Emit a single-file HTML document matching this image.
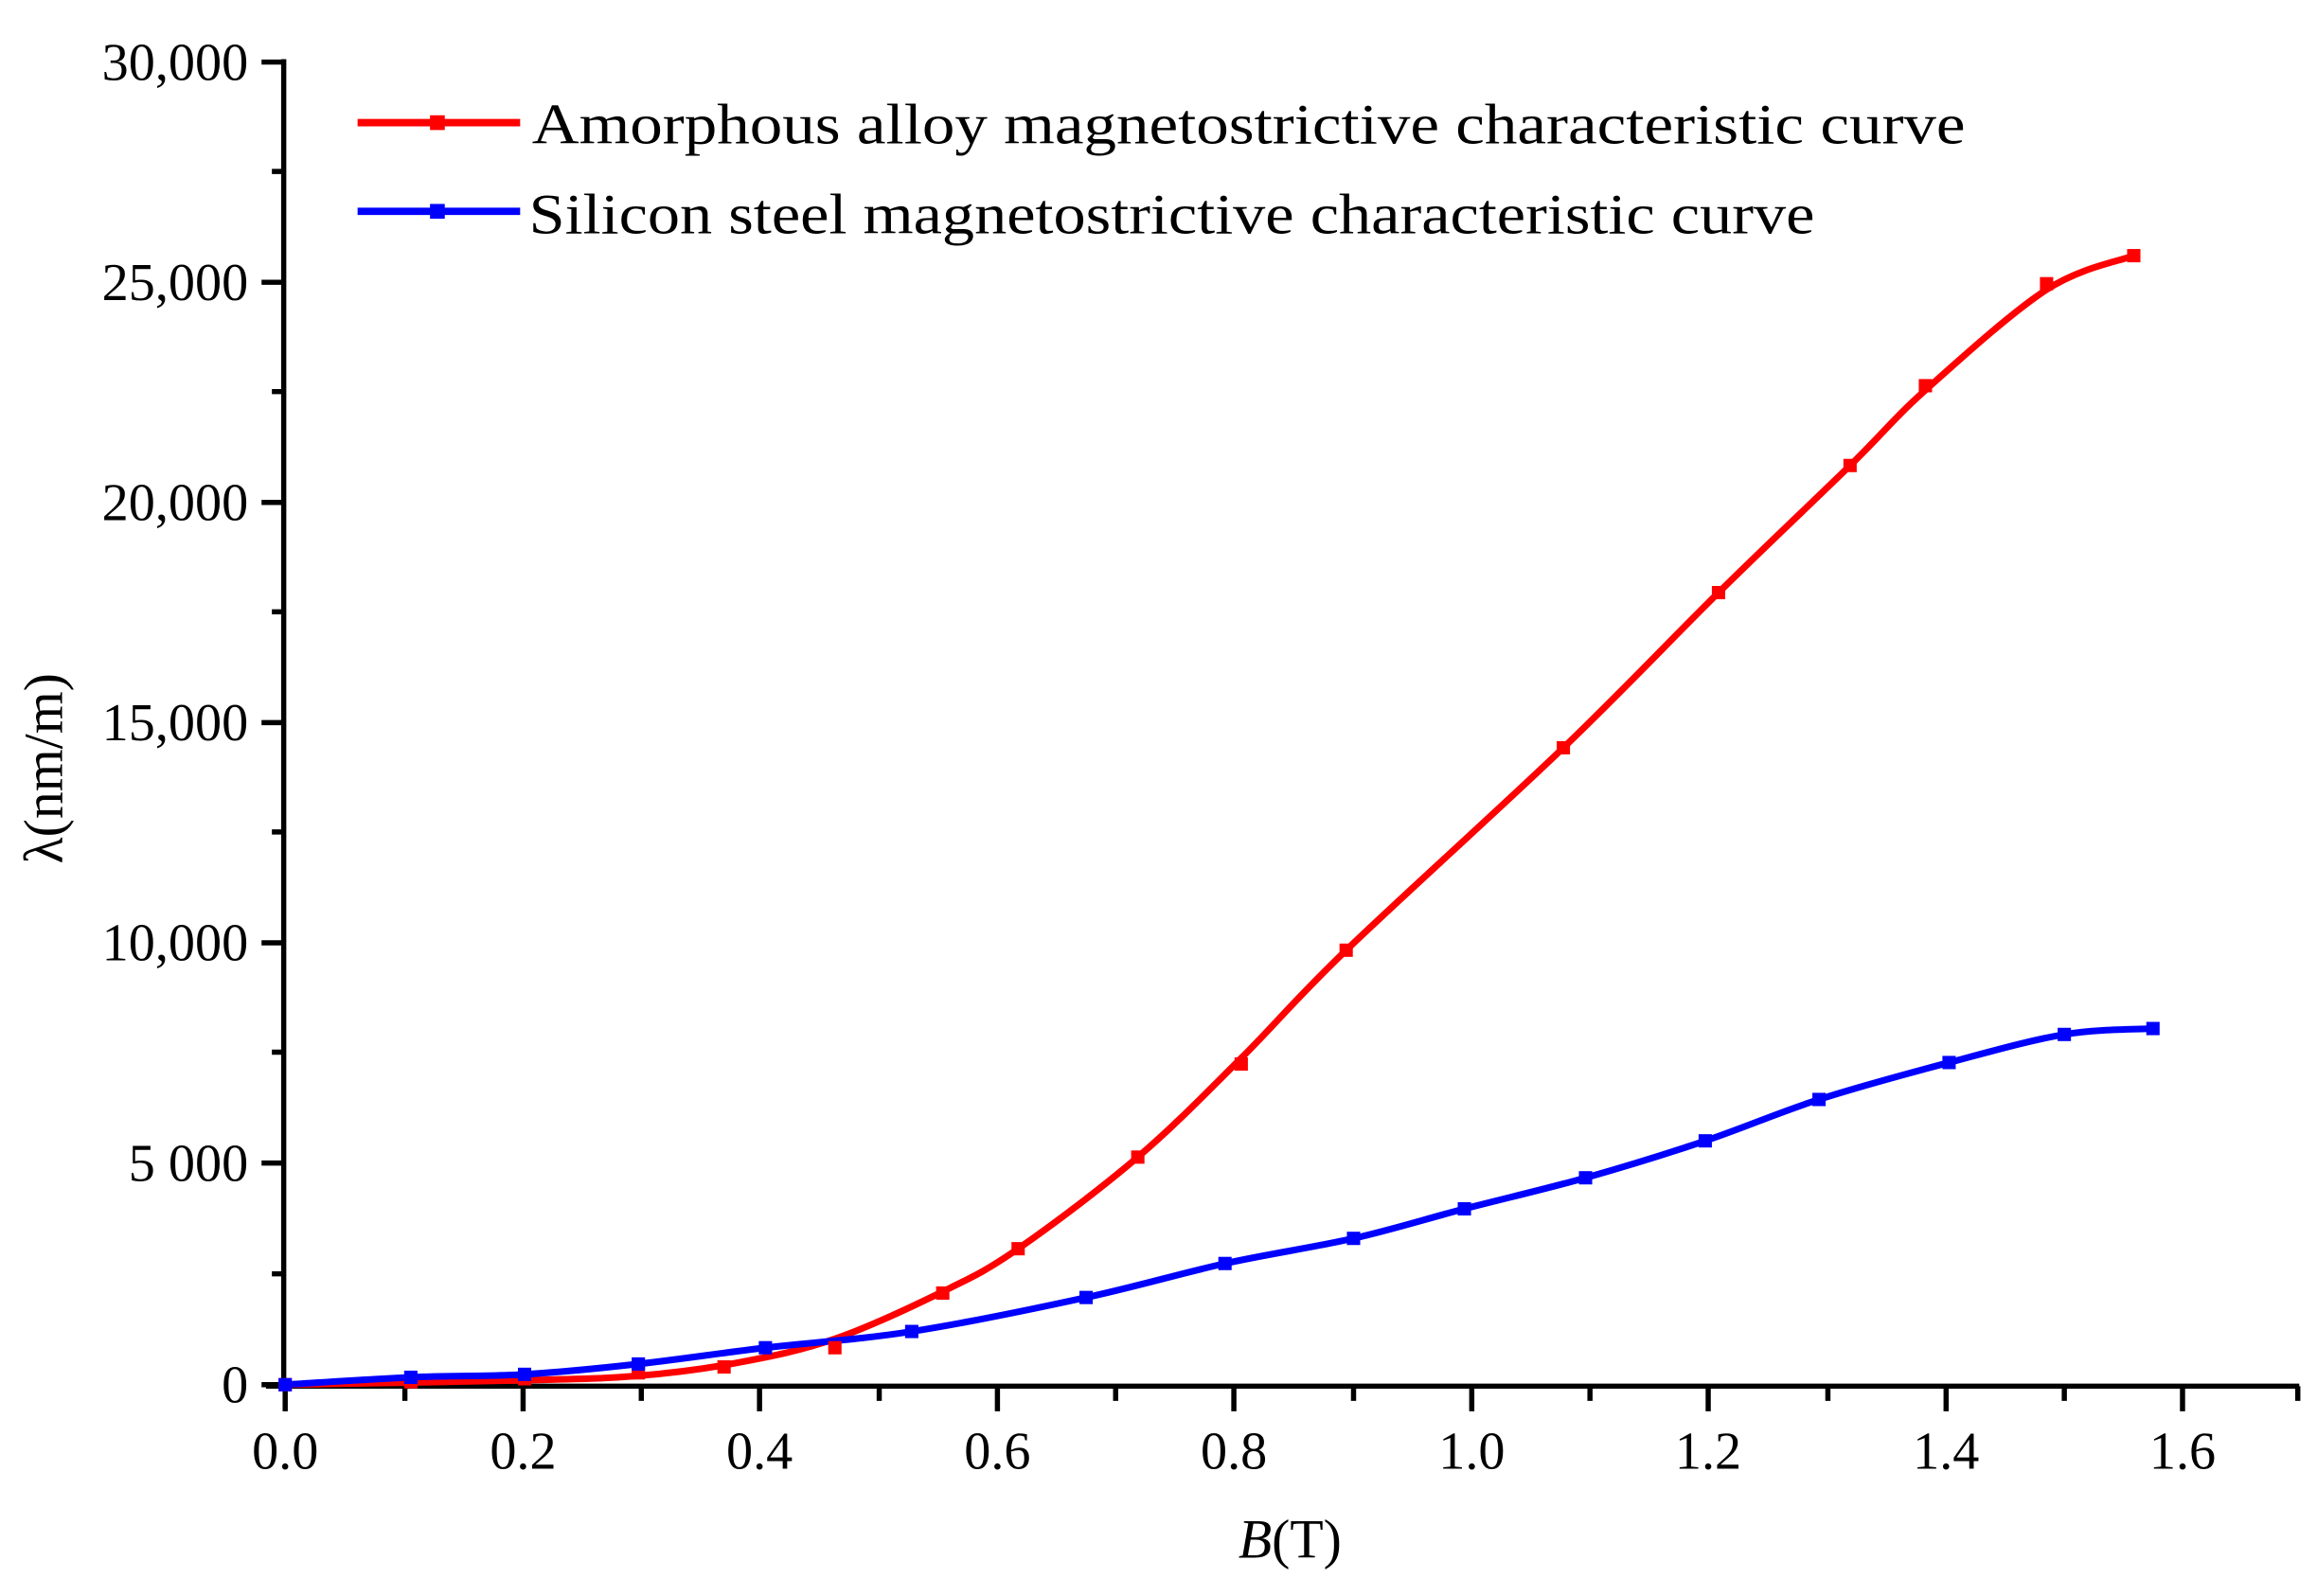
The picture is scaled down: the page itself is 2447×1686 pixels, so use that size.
<!DOCTYPE html>
<html><head><meta charset="utf-8"><style>
html,body{margin:0;padding:0;background:#fff;}
svg{display:block;}
text{font-family:"Liberation Serif",serif;fill:#000;}
</style></head><body>
<svg id="s" width="2447" height="1686" viewBox="0 0 1568 1080" preserveAspectRatio="none" xmlns="http://www.w3.org/2000/svg">
<rect width="1568" height="1080" fill="#fff"/>
<g stroke="#000" stroke-width="3.5" fill="none">
<line x1="192" y1="40" x2="192" y2="939"/>
<line x1="180" y1="938" x2="1556" y2="938"/>
<path d="M177 42H192M177 191H192M177 340H192M177 489H192M177 638H192M177 787H192M177 937H192"/>
<path d="M184 116H192M184 265H192M184 414H192M184 563H192M184 712H192M184 862H192"/>
<path d="M193 938V955M354 938V955M514 938V955M675 938V955M835 938V955M996 938V955M1156 938V955M1317 938V955M1477 938V955"/>
<path d="M274 938V948M434 938V948M595 938V948M755 938V948M916 938V948M1076 938V948M1237 938V948M1397 938V948M1555 938V948"/>
</g>
<g font-size="36" text-anchor="end">
<text x="168" y="54">30,000</text>
<text x="168" y="203">25,000</text>
<text x="168" y="352">20,000</text>
<text x="168" y="501">15,000</text>
<text x="168" y="650">10,000</text>
<text x="168" y="799">5 000</text>
<text x="168" y="949">0</text>
</g>
<g font-size="36" text-anchor="middle">
<text x="193" y="994">0.0</text>
<text x="354" y="994">0.2</text>
<text x="514" y="994">0.4</text>
<text x="675" y="994">0.6</text>
<text x="835" y="994">0.8</text>
<text x="996" y="994">1.0</text>
<text x="1156" y="994">1.2</text>
<text x="1317" y="994">1.4</text>
<text x="1477" y="994">1.6</text>
</g>
<text x="873" y="1054" font-size="37" text-anchor="middle"><tspan font-style="italic">B</tspan>(T)</text>
<text transform="translate(42,520) rotate(-90)" font-size="37" text-anchor="middle">λ(nm/m)</text>
<line x1="242" y1="83" x2="352" y2="83" stroke="#f00" stroke-width="5"/>
<rect x="291" y="78" width="10" height="10" fill="#f00"/>
<text x="360" y="97" font-size="39" textLength="970" lengthAdjust="spacingAndGlyphs">Amorphous alloy magnetostrictive characteristic curve</text>
<line x1="242" y1="143" x2="352" y2="143" stroke="#00f" stroke-width="5"/>
<rect x="291" y="138" width="10" height="10" fill="#00f"/>
<text x="358" y="158" font-size="39" textLength="870" lengthAdjust="spacingAndGlyphs">Silicon steel magnetostrictive characteristic curve</text>
<path id="red" fill="none" stroke="#f00" stroke-width="4.5"/>
<path id="blue" fill="none" stroke="#00f" stroke-width="4.5"/>
<g id="mk"></g>
</svg>
<script>
var R=[[193,937],[278,935],[355,933],[432,929],[490,925],[565,912],[638,875],[689,845],[770,783],[840,720],[911,643],[1058,506],[1163,401],[1252,315],[1303,261],[1385,192],[1444,173]];
var RC=[[193,937],[355,934],[432,931],[500,922],[565,906],[638,874],[689,845],[770,783],[840,716],[911,643],[1058,506],[1163,401],[1252,315],[1303,264],[1385,196],[1444,173]];
var B=[[193,937],[278,932],[355,930],[432,923],[518,912],[617,901],[735,878],[829,855],[916,838],[991,818],[1073,797],[1154,772],[1231,744],[1319,719],[1397,700],[1457,696]];
function cr(p){var d="M"+p[0][0]+" "+p[0][1];for(var i=0;i<p.length-1;i++){var p0=p[i>0?i-1:i],p1=p[i],p2=p[i+1],p3=p[i+2<p.length?i+2:i+1];
var c1=[p1[0]+(p2[0]-p0[0])/6,p1[1]+(p2[1]-p0[1])/6],c2=[p2[0]-(p3[0]-p1[0])/6,p2[1]-(p3[1]-p1[1])/6];
d+=" C"+c1[0]+" "+c1[1]+" "+c2[0]+" "+c2[1]+" "+p2[0]+" "+p2[1];}return d;}
document.getElementById("red").setAttribute("d",cr(RC));
document.getElementById("blue").setAttribute("d",cr(B));
var g=document.getElementById("mk"),ns="http://www.w3.org/2000/svg";
function m(p,c){p.forEach(function(q){var r=document.createElementNS(ns,"rect");r.setAttribute("x",q[0]-4.5);r.setAttribute("y",q[1]-4.5);r.setAttribute("width",9);r.setAttribute("height",9);r.setAttribute("fill",c);g.appendChild(r);});}
m(R,"#f00");m(B,"#00f");
</script>
</body></html>
